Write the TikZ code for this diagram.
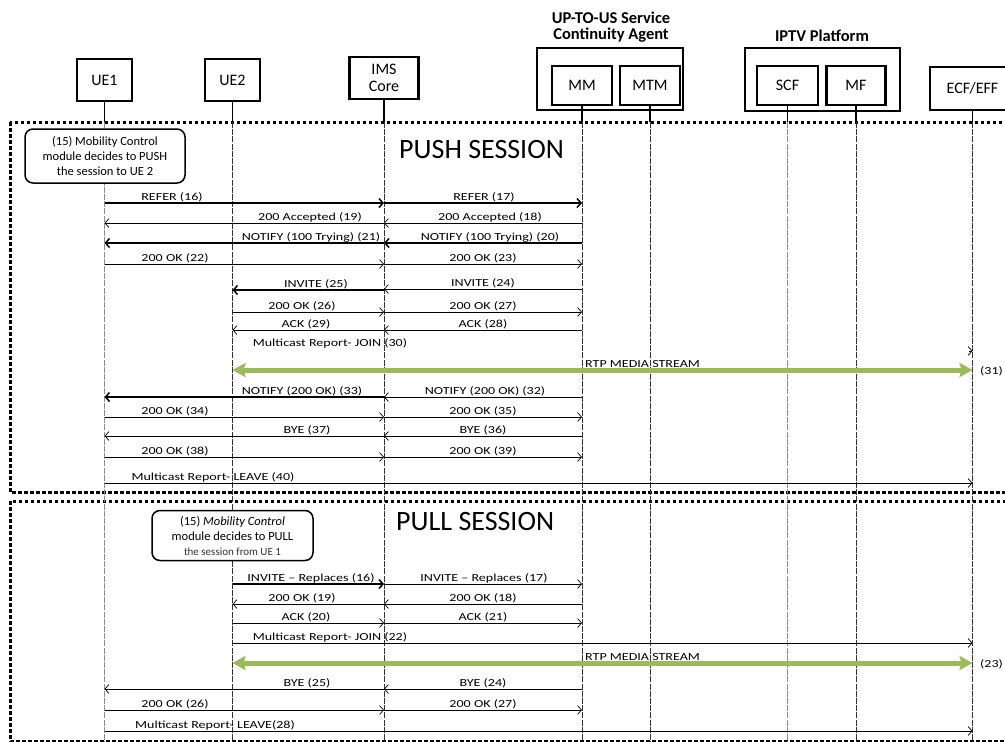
\documentclass[tikz,border=0pt]{standalone}
\usepackage{fontspec}
\setmainfont{Carlito}
\newfontfamily\lblfont{Carlito}[FakeStretch=1.3]
\usetikzlibrary{arrows.meta}
\definecolor{mediagreen}{RGB}{155,187,89}

\tikzset{
  hdrbox/.style={draw, fill=white, line width=2.5pt, inner sep=0pt, align=center,
    font=\fontsize{16}{18}\selectfont},
  grpbox/.style={draw, line width=2.8pt, inner sep=0pt},
  grplbl/.style={font=\bfseries\fontsize{16.5}{16.5}\selectfont, align=center, inner sep=0pt},
  stub/.style={line width=1.6pt},
  life/.style={line width=0.6pt, black!80, dash pattern=on 6pt off 1.2pt},
  lifelight/.style={line width=0.6pt, black!45, dash pattern=on 6pt off 1.2pt},
  sess/.style={line width=3pt, dash pattern=on 3.5pt off 2.5pt},
  sesstitle/.style={font=\fontsize{28}{30}\selectfont, inner sep=0pt, anchor=base west},
  note/.style={draw, fill=white, line width=1.5pt, rounded corners=8pt, align=center,
    inner sep=0pt, font=\fontsize{12.5}{15}\selectfont},
  msg/.style={line width=0.7pt, -{Straight Barb[length=4pt,width=9pt]}},
  msgb/.style={msg, line width=1.5pt},
  lbl/.style={font=\lblfont\fontsize{10.8}{12}\selectfont, anchor=base, inner sep=0pt},
  media/.style={line width=5pt, mediagreen,
    {Stealth[length=13pt,width=14pt,inset=2pt]}-{Stealth[length=13pt,width=14pt,inset=2pt]}},
}

% message between two lifelines: style, from, to, y, label name, label x, text
\newcommand\sqmsg[7]{%
  \draw[#1] (#2 |- 0,#4) -- (#3 |- 0,#4);
  \node[lbl] (#5) at (#6,#4-2.5) {#7};}

\begin{document}
\begin{tikzpicture}[x=1pt, y=-1pt]
\useasboundingbox (0,0) rectangle (1005,742);

% session frames
\draw[sess] (10,122) rectangle (1012,492);
\draw[sess] (10,501) rectangle (1012,741);

% participants
\node[hdrbox, minimum width=55pt, minimum height=42pt] (ue1) at (104.5,80) {UE1};
\node[hdrbox, minimum width=55pt, minimum height=42pt] (ue2) at (232.5,80) {UE2};
\node[hdrbox, minimum width=69pt, minimum height=42pt] (ims) at (384,78) {IMS\\[-1pt]Core};

\node[grpbox, minimum width=146pt, minimum height=62pt] (agent) at (610,79) {};
\node[hdrbox, minimum width=60pt, minimum height=39pt] (mm) at (582,85.5) {MM};
\node[hdrbox, minimum width=60pt, minimum height=39pt] (mtm) at (650,85.5) {MTM};
\node[grplbl] (agentlbl) at (611,27) {UP-TO-US Service\\Continuity Agent};

\node[grpbox, minimum width=155pt, minimum height=63pt] (iptv) at (822.5,79.5) {};
\node[hdrbox, minimum width=61pt, minimum height=39pt] (scf) at (787.5,85.5) {SCF};
\node[hdrbox, minimum width=59pt, minimum height=39pt] (mf) at (856,85.5) {MF};
\node[grplbl] (iptvlbl) at (822,36) {IPTV Platform};

\node[hdrbox, minimum width=85pt, minimum height=43pt] (ecf) at (972.5,88.5) {ECF/EFF};

% lifelines
\foreach \n in {ue1,ue2,ims,mm,mtm,scf,mf,ecf}
  \draw[stub] (\n.south) -- (\n |- 0,122);
\foreach \n in {ue2,ims,mm,mtm,mf,ecf}
  \draw[life] (\n |- 0,122) -- (\n |- 0,742);
\foreach \n in {ue1,scf}
  \draw[lifelight] (\n |- 0,122) -- (\n |- 0,742);

% ---------------- push session ----------------
\node[sesstitle] (pushtitle) at (399,158) {PUSH SESSION};
\node[note, minimum width=160pt, minimum height=54pt] (pushnote) at (105,156)
  {(15) Mobility Control\\module decides to PUSH\\the session to UE 2};

\sqmsg{msgb}{ue1}{ims}{203}{p16}{172}{REFER (16)}
\sqmsg{msgb}{ims}{mm}{203}{p17}{484}{REFER (17)}
\sqmsg{msg}{mm}{ims}{223}{p18}{490}{200 Accepted (18)}
\sqmsg{msg}{ims}{ue1}{223}{p19}{310}{200 Accepted (19)}
\sqmsg{msgb}{mm}{ims}{243}{p20}{490}{NOTIFY (100 Trying) (20)}
\sqmsg{msgb}{ims}{ue1}{243}{p21}{311}{NOTIFY (100 Trying) (21)}
\sqmsg{msg}{ue1}{ims}{264}{p22}{175}{200 OK (22)}
\sqmsg{msg}{ims}{mm}{264}{p23}{483}{200 OK (23)}
\sqmsg{msg}{mm}{ims}{289}{p24}{483}{INVITE (24)}
\sqmsg{msgb}{ims}{ue2}{290}{p25}{316}{INVITE (25)}
\sqmsg{msg}{ue2}{ims}{312}{p26}{302}{200 OK (26)}
\sqmsg{msg}{ims}{mm}{312}{p27}{483}{200 OK (27)}
\sqmsg{msg}{mm}{ims}{330}{p28}{483}{ACK (28)}
\sqmsg{msg}{ims}{ue2}{330}{p29}{306}{ACK (29)}

\node[lbl] (p30) at (330,346) {Multicast Report- JOIN (30)};
\coordinate (j30) at (ecf |- 0,351);
\draw[msg] ([xshift=-4pt]j30) -- (j30);

\node[lbl, anchor=base west] (rtp1) at (585,367) {RTP MEDIA STREAM};
\draw[media] (ue2 |- 0,370) -- (ecf |- 0,370);
\node[lbl, anchor=west] (p31) at (980,371) {(31)};

\sqmsg{msg}{mm}{ims}{397}{p32}{485}{NOTIFY (200 OK) (32)}
\sqmsg{msgb}{ims}{ue1}{397}{p33}{302}{NOTIFY (200 OK) (33)}
\sqmsg{msg}{ue1}{ims}{417}{p34}{175}{200 OK (34)}
\sqmsg{msg}{ims}{mm}{417}{p35}{483}{200 OK (35)}
\sqmsg{msg}{mm}{ims}{436}{p36}{483}{BYE (36)}
\sqmsg{msg}{ims}{ue1}{436}{p37}{307}{BYE (37)}
\sqmsg{msg}{ue1}{ims}{457}{p38}{175}{200 OK (38)}
\sqmsg{msg}{ims}{mm}{457}{p39}{483}{200 OK (39)}
\sqmsg{msg}{ue1}{ecf}{483}{p40}{213}{Multicast Report- LEAVE (40)}

% ---------------- pull session ----------------
\node[sesstitle] (pulltitle) at (396,530) {PULL SESSION};
\node[note, minimum width=161pt, minimum height=50pt] (pullnote) at (232.5,535.5)
  {(15) \textit{Mobility Control}\\module decides to PULL\\{\fontsize{11}{15}\selectfont\color{black!80}the session from UE 1}};

\sqmsg{msgb}{ue2}{ims}{584}{q16}{311}{INVITE – Replaces (16)}
\sqmsg{msg}{ims}{mm}{584}{q17}{484}{INVITE – Replaces (17)}
\sqmsg{msg}{mm}{ims}{604}{q18}{483}{200 OK (18)}
\sqmsg{msg}{ims}{ue2}{604}{q19}{302}{200 OK (19)}
\sqmsg{msg}{ue2}{ims}{623}{q20}{306}{ACK (20)}
\sqmsg{msg}{ims}{mm}{623}{q21}{483}{ACK (21)}
\sqmsg{msg}{ue2}{ecf}{643}{q22}{330}{Multicast Report- JOIN (22)}

\node[lbl, anchor=base west] (rtp2) at (585,660) {RTP MEDIA STREAM};
\draw[media] (ue2 |- 0,663) -- (ecf |- 0,663);
\node[lbl, anchor=west] (q23) at (980,664) {(23)};

\sqmsg{msg}{mm}{ims}{689}{q24}{483}{BYE (24)}
\sqmsg{msg}{ims}{ue1}{689}{q25}{307}{BYE (25)}
\sqmsg{msg}{ue1}{ims}{710}{q26}{175}{200 OK (26)}
\sqmsg{msg}{ims}{mm}{710}{q27}{483}{200 OK (27)}
\sqmsg{msg}{ue1}{ecf}{731}{q28}{215}{Multicast Report- LEAVE(28)}
\end{tikzpicture}
\end{document}
